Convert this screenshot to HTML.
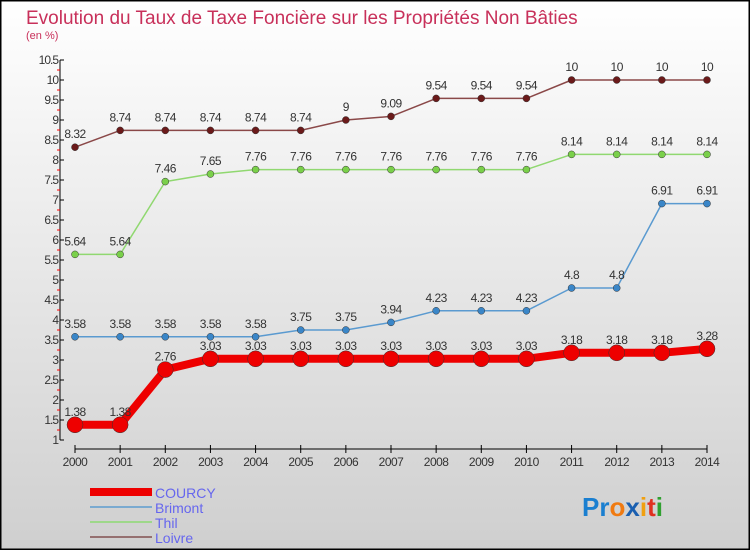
<!DOCTYPE html>
<html><head><meta charset="utf-8"><style>
body{margin:0;width:750px;height:550px;overflow:hidden;font-family:"Liberation Sans",sans-serif}
svg{display:block}
</style></head><body>
<svg id="chart" width="750" height="550" xmlns="http://www.w3.org/2000/svg">
<defs><linearGradient id="bg" x1="0" y1="0" x2="0" y2="1"><stop offset="0" stop-color="#ffffff"/><stop offset="1" stop-color="#cfcfcf"/></linearGradient></defs>
<rect x="0" y="0" width="750" height="550" fill="url(#bg)" stroke="#000" stroke-width="3"/>
<text x="26" y="24" font-size="19" fill="#c8305a" font-weight="300">Evolution du Taux de Taxe Foncière sur les Propriétés Non Bâties</text>
<text x="26" y="39" font-size="11" fill="#c8305a">(en %)</text>
<g id="axes"></g>
<g id="series"></g>
<g>
<rect x="90" y="488" width="62" height="8" fill="#e00"/>
<text x="155" y="498" font-size="14" fill="#6666ee">COURCY</text>
<line x1="90" y1="507" x2="152" y2="507" stroke="#7aaad0" stroke-width="2"/>
<text x="155" y="513" font-size="14" fill="#6666ee">Brimont</text>
<line x1="90" y1="522" x2="152" y2="522" stroke="#9ed88a" stroke-width="2"/>
<text x="155" y="528" font-size="14" fill="#6666ee">Thil</text>
<line x1="90" y1="537" x2="152" y2="537" stroke="#957070" stroke-width="2"/>
<text x="155" y="543" font-size="14" fill="#6666ee">Loivre</text>
</g>
<g font-size="26" font-weight="bold">
<text x="582" y="516"><tspan fill="#1a7fd0">Pr</tspan><tspan fill="#f07a10">o</tspan><tspan fill="#1a5fb0">x</tspan><tspan fill="#f0a010">i</tspan><tspan fill="#e03020">t</tspan><tspan fill="#30a030">i</tspan></text>
</g>
</svg>
<script>
const years=[2000,2001,2002,2003,2004,2005,2006,2007,2008,2009,2010,2011,2012,2013,2014];
const courcy=[1.38,1.38,2.76,3.03,3.03,3.03,3.03,3.03,3.03,3.03,3.03,3.18,3.18,3.18,3.28];
const brimont=[3.58,3.58,3.58,3.58,3.58,3.75,3.75,3.94,4.23,4.23,4.23,4.8,4.8,6.91,6.91];
const thil=[5.64,5.64,7.46,7.65,7.76,7.76,7.76,7.76,7.76,7.76,7.76,8.14,8.14,8.14,8.14];
const loivre=[8.32,8.74,8.74,8.74,8.74,8.74,9,9.09,9.54,9.54,9.54,10,10,10,10];
const yTicks=[1,1.5,2,2.5,3,3.5,4,4.5,5,5.5,6,6.5,7,7.5,8,8.5,9,9.5,10,10.5];
const NS='http://www.w3.org/2000/svg';
const x=i=>75+i*(707-75)/(years.length-1);
const y=v=>440-(v-1)*40;
function mk(t,a,p){const e=document.createElementNS(NS,t);for(const k in a)e.setAttribute(k,a[k]);p.appendChild(e);return e;}
const ax=document.getElementById('axes');
const yl=mk('line',{x1:60,y1:y(10.5),x2:60,y2:y(1),stroke:'#000'},ax);


yTicks.forEach((v,k)=>{
 mk('line',{x1:60,y1:y(v),x2:64,y2:y(v),stroke:'#000'},ax);
 if(k>0) mk('line',{x1:57,y1:y(v)+10,x2:60,y2:y(v)+10,stroke:'#f00'},ax);
 const t=mk('text',{x:58,y:y(v)+4,'font-size':12,'text-anchor':'end',fill:'#333','letter-spacing':'-1'},ax);
 t.textContent=String(v);
 
 
});
const xl=mk('line',{x1:x(0),y1:449,x2:x(years.length-1),y2:449,stroke:'#000'},ax);


years.forEach((yr,i)=>{
 mk('line',{x1:x(i),y1:445,x2:x(i),y2:453,stroke:'#000'},ax);
 const t=mk('text',{x:x(i),y:466,'font-size':12,'text-anchor':'middle',fill:'#333','letter-spacing':'-0.5'},ax);
 t.textContent=String(yr);
 
 
});
const sg=document.getElementById('series');
function series(name,data,color,lineColor,lw,r){
 const g=mk('g',{},sg);
 
 
 const pl=mk('polyline',{points:data.map((v,i)=>x(i)+','+y(v)).join(' '),fill:'none',stroke:lineColor,'stroke-width':lw,'stroke-linejoin':'round'},g);
 
 
 data.forEach((v,i)=>{
  const c=mk('circle',{cx:x(i),cy:y(v),r:r,fill:color,stroke:'#333','stroke-width':0.5},g);
  
  
  const t=mk('text',{x:x(i),y:y(v)-9,'font-size':12,'text-anchor':'middle',fill:'#333','letter-spacing':'-0.5'},g);
  t.textContent=String(v);
  
  
 });
}
series('loivre',loivre,'#6b1a1a','#8a4848',1.5,3.5);
series('thil',thil,'#7ad04a','#90d870',1.5,3.5);
series('brimont',brimont,'#3a86c8','#5a9ad0',1.5,3.5);
series('courcy',courcy,'#ee0000','#ee0000',8,8);
</script>
</body></html>
